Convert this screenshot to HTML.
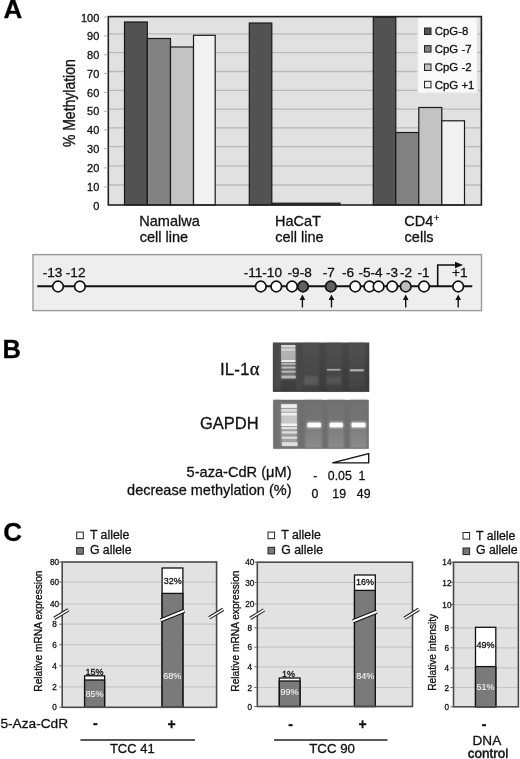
<!DOCTYPE html>
<html><head><meta charset="utf-8">
<style>
html,body{margin:0;padding:0;background:#fff;}
body{width:520px;height:759px;overflow:hidden;}
svg{display:block;filter:blur(0.3px);font-family:"Liberation Sans",sans-serif;}
svg text{stroke:#111;stroke-width:0.3px;}
svg text.w{stroke:#f4f4f4;stroke-width:0.1px;}
</style></head>
<body>
<svg width="520" height="759" viewBox="0 0 520 759">
<!-- ===== PANEL A ===== -->
<text x="3.4" y="18.4" font-size="26" font-weight="bold" stroke="#000" stroke-width="0.2">A</text>
<!-- plot area -->
<rect x="108.3" y="16.6" width="373.1" height="188.4" fill="#e1e1e1"/>
<g stroke="#bababa" stroke-width="1.3">
<line x1="108.5" x2="481" y1="33.9" y2="33.9"/>
<line x1="108.5" x2="481" y1="52.7" y2="52.7"/>
<line x1="108.5" x2="481" y1="71.5" y2="71.5"/>
<line x1="108.5" x2="481" y1="90.4" y2="90.4"/>
<line x1="108.5" x2="481" y1="109.2" y2="109.2"/>
<line x1="108.5" x2="481" y1="127.9" y2="127.9"/>
<line x1="108.5" x2="481" y1="146.7" y2="146.7"/>
<line x1="108.5" x2="481" y1="165.9" y2="165.9"/>
<line x1="108.5" x2="481" y1="185" y2="185"/>
</g>
<!-- legend -->
<rect x="418" y="17.2" width="59" height="75.6" fill="#f9f9f9" stroke="#ececec" stroke-width="1"/>
<!-- bars -->
<g stroke="#1a1a1a" stroke-width="1.2">
<rect x="124.5" y="22" width="22.8" height="183.0" fill="#525252"/>
<rect x="147.3" y="38.5" width="23.2" height="166.5" fill="#828282"/>
<rect x="170.5" y="47" width="23" height="158.0" fill="#c3c3c3"/>
<rect x="193.5" y="35.3" width="21.7" height="169.7" fill="#f2f2f2"/>
<rect x="249.3" y="23" width="22.5" height="182.0" fill="#525252"/>
<rect x="272" y="203.2" width="68" height="1.8" fill="#525252"/>
<rect x="373.3" y="17" width="22.5" height="188.0" fill="#525252"/>
<rect x="395.8" y="132.5" width="23" height="72.5" fill="#828282"/>
<rect x="418.8" y="107.5" width="23" height="97.5" fill="#c3c3c3"/>
<rect x="441.8" y="120.8" width="22.7" height="84.2" fill="#f2f2f2"/>
</g>
<!-- frame -->
<rect x="108.3" y="16.6" width="373.1" height="188.4" fill="none" stroke="#222" stroke-width="1.6"/>
<!-- ticks -->
<g stroke="#b0b0b0" stroke-width="1">
<line x1="103.8" x2="107.5" y1="35.9" y2="35.9"/>
<line x1="103.8" x2="107.5" y1="54.7" y2="54.7"/>
<line x1="103.8" x2="107.5" y1="73.5" y2="73.5"/>
<line x1="103.8" x2="107.5" y1="92.4" y2="92.4"/>
<line x1="103.8" x2="107.5" y1="111.2" y2="111.2"/>
<line x1="103.8" x2="107.5" y1="129.9" y2="129.9"/>
<line x1="103.8" x2="107.5" y1="148.7" y2="148.7"/>
<line x1="103.8" x2="107.5" y1="167.9" y2="167.9"/>
<line x1="103.8" x2="107.5" y1="187.0" y2="187.0"/>
<line x1="103.8" x2="107.5" y1="17" y2="17"/>
</g>
<!-- y tick labels -->
<g font-size="11" text-anchor="end" fill="#111">
<text x="99.3" y="21.6">100</text>
<text x="99.3" y="40.4">90</text>
<text x="99.3" y="59.1">80</text>
<text x="99.3" y="77.8">70</text>
<text x="99.3" y="96.7">60</text>
<text x="99.3" y="115.4">50</text>
<text x="99.3" y="134.2">40</text>
<text x="99.3" y="153">30</text>
<text x="99.3" y="172">20</text>
<text x="99.3" y="191">10</text>
<text x="99.3" y="209.5">0</text>
</g>
<text transform="translate(75.2,103.2) rotate(-90) scale(1,1.13)" font-size="14" text-anchor="middle" fill="#111">% Methylation</text>
<!-- legend items -->
<g stroke="#222" stroke-width="1">
<rect x="424.5" y="28" width="6.5" height="6.5" fill="#525252"/>
<rect x="424.5" y="45.6" width="6.5" height="6.5" fill="#828282"/>
<rect x="424.5" y="64" width="6.5" height="6.5" fill="#c3c3c3"/>
<rect x="424.5" y="81.3" width="6.5" height="6.5" fill="#f2f2f2"/>
</g>
<g font-size="11.4" fill="#111">
<text x="434.8" y="35.4">CpG-8</text>
<text x="434.8" y="52.9">CpG -7</text>
<text x="434.8" y="71.2">CpG -2</text>
<text x="434.8" y="88.7">CpG +1</text>
</g>
<!-- category labels -->
<g font-size="14.5" fill="#111">
<text x="139.3" y="225.5">Namalwa</text>
<text x="139.8" y="242">cell line</text>
<text x="275" y="225.5">HaCaT</text>
<text x="275.3" y="242">cell line</text>
<text x="404.2" y="225.5">CD4<tspan font-size="9" dx="0.8" dy="-4.8">+</tspan></text>
<text x="404.6" y="242">cells</text>
</g>

<!-- ===== CpG MAP ===== -->
<rect x="33" y="254.6" width="448.5" height="56" fill="#eeeeee" stroke="#9a9a9a" stroke-width="1.4"/>
<line x1="37.3" x2="472.3" y1="286.2" y2="286.2" stroke="#111" stroke-width="2"/>
<!-- transcription start -->
<polyline points="437.7,286.2 437.7,265 456,265" fill="none" stroke="#111" stroke-width="1.6"/>
<polygon points="455,261.8 463,265 455,268.2" fill="#111"/>
<g stroke="#111" stroke-width="1.7" fill="#fff">
<circle cx="58" cy="286.5" r="5.3"/>
<circle cx="79.9" cy="286.5" r="5.3"/>
<circle cx="260.8" cy="286.5" r="5.3"/>
<circle cx="276.3" cy="286.5" r="5.3"/>
<circle cx="292" cy="286.5" r="5.3"/>
<circle cx="303" cy="286.5" r="5.3" fill="#606060"/>
<circle cx="330.8" cy="286.5" r="5.3" fill="#606060"/>
<circle cx="355.3" cy="286.5" r="5.3"/>
<circle cx="369.4" cy="286.5" r="5.3"/>
<circle cx="378.6" cy="286.5" r="5.3"/>
<circle cx="392.2" cy="286.5" r="5.3"/>
<circle cx="405.7" cy="286.5" r="5.3" fill="#bcbcbc"/>
<circle cx="424" cy="286.5" r="5.3"/>
<circle cx="458.2" cy="286.5" r="5.3"/>
</g>
<!-- up arrows -->
<g stroke="#111" stroke-width="1.4">
<line x1="302.4" x2="302.4" y1="298" y2="307.5"/>
<line x1="331.5" x2="331.5" y1="298" y2="307.5"/>
<line x1="405.7" x2="405.7" y1="298" y2="307.5"/>
<line x1="458.2" x2="458.2" y1="298" y2="307.5"/>
</g>
<g fill="#111">
<polygon points="302.4,294.5 299.6,300 305.2,300"/>
<polygon points="331.5,294.5 328.7,300 334.3,300"/>
<polygon points="405.7,294.5 402.9,300 408.5,300"/>
<polygon points="458.2,294.5 455.4,300 461,300"/>
</g>
<g font-size="13.6" fill="#111">
<text x="42.7" y="276.6">-13</text>
<text x="65.8" y="276.6">-12</text>
<text x="243.7" y="276.6">-11-10</text>
<text x="287.6" y="276.6">-9-8</text>
<text x="322.7" y="276.6">-7</text>
<text x="341.9" y="276.6">-6</text>
<text x="358.5" y="276.6">-5-4</text>
<text x="386" y="276.6">-3</text>
<text x="400" y="276.6">-2</text>
<text x="417.6" y="276.6">-1</text>
<text x="452" y="276.6">+1</text>
</g>

<!-- ===== PANEL B ===== -->
<text x="2.4" y="358.2" font-size="25.5" font-weight="bold">B</text>
<defs>
<filter id="bl" x="-10%" y="-30%" width="120%" height="160%"><feGaussianBlur stdDeviation="0.6"/></filter>
<filter id="bl3" x="-20%" y="-60%" width="140%" height="220%"><feGaussianBlur stdDeviation="1"/></filter>
<filter id="bl2" x="-10%" y="-30%" width="120%" height="160%"><feGaussianBlur stdDeviation="1.2"/></filter>
<linearGradient id="lad1" x1="0" y1="0" x2="0" y2="1">
<stop offset="0" stop-color="#d8d8d8"/><stop offset="0.3" stop-color="#c8c8c8"/><stop offset="0.7" stop-color="#b0b0b0"/><stop offset="1" stop-color="#a8a8a8"/>
</linearGradient>
<linearGradient id="g1bg" x1="0" y1="0" x2="0.3" y2="1">
<stop offset="0" stop-color="#494949"/><stop offset="0.6" stop-color="#424242"/><stop offset="1" stop-color="#3b3b3b"/>
</linearGradient>
<linearGradient id="lane1" x1="0" y1="0" x2="0" y2="1">
<stop offset="0" stop-color="#515151"/><stop offset="0.6" stop-color="#484848"/><stop offset="1" stop-color="#424242"/>
</linearGradient>
<linearGradient id="lane2" x1="0" y1="0" x2="0" y2="1">
<stop offset="0" stop-color="#717171"/><stop offset="0.45" stop-color="#747474"/><stop offset="0.6" stop-color="#7e7e7e"/><stop offset="1" stop-color="#8c8c8c"/>
</linearGradient>
</defs>
<!-- gel 1 -->
<rect x="272.9" y="342.5" width="96.4" height="49.4" fill="url(#g1bg)"/>
<g filter="url(#bl2)">
<rect x="274" y="344" width="7" height="46" fill="#4c4c4c"/>
<rect x="296" y="344" width="6" height="46" fill="#474747"/>
<rect x="303" y="343.5" width="16" height="47" fill="url(#lane1)"/>
<rect x="326" y="343.5" width="16" height="47" fill="url(#lane1)"/>
<rect x="349" y="343.5" width="16" height="47" fill="url(#lane1)"/>
<rect x="304" y="376" width="14" height="9" fill="#5a5a5a"/>
<rect x="327" y="377" width="14" height="7" fill="#545454"/>
<rect x="281.3" y="344.5" width="14.2" height="34.5" fill="#707070"/>
</g>
<g filter="url(#bl)">
<rect x="281.3" y="345" width="14" height="15" fill="#aaaaaa"/>
<rect x="281.3" y="345" width="14" height="2.2" fill="#d8d8d8"/>
<rect x="281.3" y="348.4" width="14" height="2.8" fill="#d0d0d0"/>
<rect x="281.3" y="351.5" width="14" height="8" fill="#b2b2b2"/>
<rect x="281.3" y="360" width="14.2" height="2" fill="#eeeeee"/>
<rect x="281.5" y="362.8" width="14" height="2" fill="#b8b8b8"/>
<rect x="281.5" y="366.5" width="14" height="2" fill="#bdbdbd"/>
<rect x="281.5" y="370.7" width="14" height="2" fill="#b8b8b8"/>
<rect x="281.5" y="375.6" width="14.2" height="2.8" fill="#b8b8b8"/>
<rect x="327" y="368.9" width="13.5" height="1.7" fill="#a8a8a8"/>
<rect x="349.8" y="369.3" width="14" height="2" fill="#b8b8b8"/>
</g>
<!-- gel 2 -->
<rect x="273.2" y="399.8" width="95.6" height="49" fill="#6e6e6e"/>
<g filter="url(#bl2)">
<rect x="274" y="400.5" width="7" height="47.5" fill="#727272"/>
<rect x="305" y="400.5" width="17" height="47.5" fill="url(#lane2)"/>
<rect x="328" y="400.5" width="16" height="47.5" fill="url(#lane2)"/>
<rect x="350" y="400.5" width="17" height="47.5" fill="url(#lane2)"/>
<rect x="281.3" y="404" width="15.8" height="42.2" fill="#a0a0a0"/>
</g>
<g filter="url(#bl)">
<rect x="281.2" y="404.2" width="15.6" height="3.7" fill="#eeeeee"/>
<rect x="281.2" y="409" width="15.6" height="2.7" fill="#dddddd"/>
<rect x="281.2" y="412.7" width="15.6" height="3.1" fill="#f0f0f0"/>
<rect x="281.4" y="415.8" width="15.4" height="7.5" fill="#c8c8c8"/>
<rect x="281.2" y="423.3" width="15.8" height="2.7" fill="#f5f5f5"/>
<rect x="281.5" y="427" width="15.5" height="2.2" fill="#e0e0e0"/>
<rect x="281.8" y="431.2" width="15.3" height="2.4" fill="#dddddd"/>
<rect x="281.8" y="436.7" width="15.3" height="2.1" fill="#dddddd"/>
<rect x="282" y="442.2" width="15.5" height="3.8" fill="#e0e0e0"/>
</g>
<g filter="url(#bl3)">
<rect x="306.8" y="422" width="14.6" height="6" rx="1.5" fill="#c8c8c8"/>
<rect x="329.2" y="422" width="14.2" height="6" rx="1.5" fill="#c8c8c8"/>
<rect x="351" y="422" width="15" height="6" rx="1.5" fill="#c8c8c8"/>
</g>
<g filter="url(#bl)">
<rect x="307.5" y="422.8" width="13.4" height="4.4" rx="1" fill="#ffffff"/>
<rect x="329.8" y="422.8" width="13" height="4.4" rx="1" fill="#ffffff"/>
<rect x="351.7" y="422.8" width="13.8" height="4.4" rx="1" fill="#ffffff"/>
</g>
<text x="259.4" y="375.2" font-size="17" text-anchor="end" fill="#111">IL-1<tspan font-family="Liberation Serif" font-size="18.5" dx="0.3">α</tspan></text>
<text x="258.6" y="428.9" font-size="16.5" text-anchor="end" fill="#111">GAPDH</text>
<polygon points="332.3,462.9 368.7,453.6 368.7,462.9" fill="#fff" stroke="#111" stroke-width="1.3"/>
<g font-size="14.6" text-anchor="end" fill="#111">
<text x="291.5" y="477.2">5-aza-CdR (μM)</text>
<text x="291.5" y="495.1" font-size="14.5">decrease methylation (%)</text>
</g>
<g font-size="12.3" fill="#111" text-anchor="middle">
<text x="315.2" y="479.8">-</text>
<text x="339.8" y="479.8">0.05</text>
<text x="361.8" y="479.8">1</text>
<text x="314.8" y="498.2">0</text>
<text x="339.2" y="498.2">19</text>
<text x="363.7" y="498.2">49</text>
</g>

<!-- ===== PANEL C ===== -->
<text x="3.2" y="540.6" font-size="26" font-weight="bold">C</text>
<!-- legends -->
<g stroke="#222" stroke-width="1">
<rect x="76.7" y="532.1" width="6.6" height="6.6" fill="#fff"/>
<rect x="76.7" y="547.6" width="6.6" height="6.6" fill="#7a7a7a"/>
<rect x="268" y="532.1" width="6.6" height="6.6" fill="#fff"/>
<rect x="268" y="547.3" width="6.6" height="6.6" fill="#7a7a7a"/>
<rect x="463" y="532.5" width="6.6" height="6.6" fill="#fff"/>
<rect x="463" y="548" width="6.6" height="6.6" fill="#7a7a7a"/>
</g>
<g font-size="12.3" fill="#111">
<text x="89.9" y="539.2">T allele</text>
<text x="89.9" y="553.8">G allele</text>
<text x="281.3" y="539.2">T allele</text>
<text x="281.3" y="553.8">G allele</text>
<text x="476" y="539.6">T allele</text>
<text x="476" y="554.3">G allele</text>
</g>
<!-- plot backgrounds -->
<rect x="62.2" y="562" width="154.4" height="145.3" fill="#e2e2e2"/>
<rect x="257.3" y="562.2" width="155.2" height="144.3" fill="#e2e2e2"/>
<rect x="453.5" y="562.2" width="64.9" height="144.6" fill="#e2e2e2"/>
<!-- gridlines -->
<g stroke="#c6c6c6" stroke-width="1.2">
<line x1="62.2" x2="216.6" y1="582" y2="582"/>
<line x1="62.2" x2="216.6" y1="604" y2="604"/>
<line x1="62.2" x2="216.6" y1="624.2" y2="624.2"/>
<line x1="62.2" x2="216.6" y1="644.7" y2="644.7"/>
<line x1="62.2" x2="216.6" y1="665.8" y2="665.8"/>
<line x1="62.2" x2="216.6" y1="686.9" y2="686.9"/>
<line x1="257.3" x2="412.5" y1="582.4" y2="582.4"/>
<line x1="257.3" x2="412.5" y1="604" y2="604"/>
<line x1="257.3" x2="412.5" y1="627.8" y2="627.8"/>
<line x1="257.3" x2="412.5" y1="647.2" y2="647.2"/>
<line x1="257.3" x2="412.5" y1="666.8" y2="666.8"/>
<line x1="257.3" x2="412.5" y1="687.5" y2="687.5"/>
<line x1="453.5" x2="518.4" y1="582.4" y2="582.4"/>
<line x1="453.5" x2="518.4" y1="604.6" y2="604.6"/>
<line x1="453.5" x2="518.4" y1="627.8" y2="627.8"/>
<line x1="453.5" x2="518.4" y1="647.8" y2="647.8"/>
<line x1="453.5" x2="518.4" y1="667.9" y2="667.9"/>
<line x1="453.5" x2="518.4" y1="687.5" y2="687.5"/>
</g>
<!-- bars -->
<g stroke="#111" stroke-width="1.3">
<rect x="84.6" y="675.8" width="20" height="31.5" fill="#fff"/>
<rect x="84.6" y="680" width="20" height="27.3" fill="#7a7a7a"/>
<rect x="162.1" y="568" width="20.8" height="139.3" fill="#fff"/>
<rect x="162.1" y="593.4" width="20.8" height="113.9" fill="#7a7a7a"/>
<rect x="279.3" y="678" width="20.7" height="28.5" fill="#fff"/>
<rect x="279.3" y="681" width="20.7" height="25.5" fill="#7a7a7a"/>
<rect x="354.5" y="575" width="20.8" height="131.5" fill="#fff"/>
<rect x="354.5" y="590.4" width="20.8" height="116.1" fill="#7a7a7a"/>
<rect x="475.5" y="627.3" width="20.3" height="79.5" fill="#fff"/>
<rect x="475.5" y="666.6" width="20.3" height="40.2" fill="#7a7a7a"/>
</g>
<!-- frames -->
<g fill="none" stroke="#4a4a4a" stroke-width="1.6">
<rect x="62.2" y="562" width="154.4" height="145.3"/>
<rect x="257.3" y="562.2" width="155.2" height="144.3"/>
<rect x="453.5" y="562.2" width="64.9" height="144.6"/>
</g>
<!-- C ticks -->
<g stroke="#666" stroke-width="1">
<line x1="59.2" x2="62.2" y1="562" y2="562"/>
<line x1="59.2" x2="62.2" y1="582" y2="582"/>
<line x1="59.2" x2="62.2" y1="604" y2="604"/>
<line x1="59.2" x2="62.2" y1="624.2" y2="624.2"/>
<line x1="59.2" x2="62.2" y1="644.7" y2="644.7"/>
<line x1="59.2" x2="62.2" y1="665.8" y2="665.8"/>
<line x1="59.2" x2="62.2" y1="686.9" y2="686.9"/>
<line x1="59.2" x2="62.2" y1="707.3" y2="707.3"/>
<line x1="254.3" x2="257.3" y1="562.2" y2="562.2"/>
<line x1="254.3" x2="257.3" y1="582.4" y2="582.4"/>
<line x1="254.3" x2="257.3" y1="604" y2="604"/>
<line x1="254.3" x2="257.3" y1="627.8" y2="627.8"/>
<line x1="254.3" x2="257.3" y1="647.2" y2="647.2"/>
<line x1="254.3" x2="257.3" y1="666.8" y2="666.8"/>
<line x1="254.3" x2="257.3" y1="687.5" y2="687.5"/>
<line x1="254.3" x2="257.3" y1="706.5" y2="706.5"/>
<line x1="450.5" x2="453.5" y1="562.2" y2="562.2"/>
<line x1="450.5" x2="453.5" y1="582.4" y2="582.4"/>
<line x1="450.5" x2="453.5" y1="604.6" y2="604.6"/>
<line x1="450.5" x2="453.5" y1="627.8" y2="627.8"/>
<line x1="450.5" x2="453.5" y1="647.8" y2="647.8"/>
<line x1="450.5" x2="453.5" y1="667.9" y2="667.9"/>
<line x1="450.5" x2="453.5" y1="687.5" y2="687.5"/>
<line x1="450.5" x2="453.5" y1="706.8" y2="706.8"/>
</g>
<!-- bar breaks -->
<g>
<line x1="160.6" y1="620.4" x2="184.4" y2="610.8" stroke="#111" stroke-width="4.2"/>
<line x1="160.6" y1="620.4" x2="184.4" y2="610.8" stroke="#fff" stroke-width="2"/>
<line x1="353" y1="621.3" x2="376.8" y2="611.7" stroke="#111" stroke-width="4.2"/>
<line x1="353" y1="621.3" x2="376.8" y2="611.7" stroke="#fff" stroke-width="2"/>
</g>
<!-- axis breaks -->
<g>
<line x1="54.2" y1="618.4" x2="68.4" y2="609.8" stroke="#222" stroke-width="3.6"/>
<line x1="54.2" y1="618.4" x2="68.4" y2="609.8" stroke="#fff" stroke-width="1.5"/>
<line x1="209.2" y1="617.8" x2="223.2" y2="609.4" stroke="#222" stroke-width="3.6"/>
<line x1="209.2" y1="617.8" x2="223.2" y2="609.4" stroke="#fff" stroke-width="1.5"/>
<line x1="250.2" y1="618.4" x2="264" y2="610" stroke="#222" stroke-width="3.6"/>
<line x1="250.2" y1="618.4" x2="264" y2="610" stroke="#fff" stroke-width="1.5"/>
<line x1="404.4" y1="618.3" x2="418.8" y2="609.4" stroke="#222" stroke-width="3.6"/>
<line x1="404.4" y1="618.3" x2="418.8" y2="609.4" stroke="#fff" stroke-width="1.5"/>
</g>
<!-- tick labels -->
<g font-size="8.2" text-anchor="middle" fill="#222" stroke="#222" stroke-width="0.15">
<text x="54.5" y="565.1">80</text>
<text x="54.5" y="585.1">60</text>
<text x="54.5" y="607.1">40</text>
<text x="54.5" y="627.3">8</text>
<text x="54.5" y="647.8">6</text>
<text x="54.5" y="668.9">4</text>
<text x="54.5" y="690.0">2</text>
<text x="54.5" y="710.4">0</text>
<text x="249.8" y="564.9">40</text>
<text x="249.8" y="585.5">30</text>
<text x="249.8" y="607.1">20</text>
<text x="249.8" y="630.9">8</text>
<text x="249.8" y="650.3">6</text>
<text x="249.8" y="669.9">4</text>
<text x="249.8" y="690.6">2</text>
<text x="249.8" y="709.6">0</text>
<text x="446.9" y="565.3">14</text>
<text x="446.9" y="585.5">12</text>
<text x="446.9" y="607.7">10</text>
<text x="446.9" y="630.9">8</text>
<text x="446.9" y="650.9">6</text>
<text x="446.9" y="671.0">4</text>
<text x="446.9" y="690.6">2</text>
<text x="446.9" y="709.9">0</text>
</g>
<!-- y labels -->
<g font-size="10.2" fill="#111">
<text transform="translate(42.3,691.7) rotate(-90)">Relative mRNA expression</text>
<text transform="translate(238.5,691.7) rotate(-90)">Relative mRNA expression</text>
<text transform="translate(435.8,690.8) rotate(-90)">Relative intensity</text>
</g>
<!-- bar value labels -->
<g font-size="9" text-anchor="middle">
<text x="94.5" y="674.7" fill="#111">15%</text>
<text x="94.5" y="697.4" fill="#f4f4f4" class="w">85%</text>
<text x="172.7" y="584.2" fill="#111">32%</text>
<text x="172.3" y="678.9" fill="#f4f4f4" class="w">68%</text>
<text x="288.4" y="676.5" fill="#111">1%</text>
<text x="289.6" y="694.9" fill="#f4f4f4" class="w">99%</text>
<text x="365" y="585.4" fill="#111">16%</text>
<text x="365.3" y="679.2" fill="#f4f4f4" class="w">84%</text>
<text x="485.5" y="648.3" fill="#111">49%</text>
<text x="485.6" y="690.2" fill="#f4f4f4" class="w">51%</text>
</g>
<!-- x labels -->
<text x="0.4" y="728" font-size="13.7" fill="#111">5-Aza-CdR</text>
<g font-size="14" font-weight="bold" text-anchor="middle" fill="#111">
<text x="95.3" y="728.3">-</text>
<text x="171.5" y="729">+</text>
<text x="290.6" y="728.7">-</text>
<text x="362.7" y="728.5">+</text>
<text x="484" y="728.6">-</text>
</g>
<g stroke="#222" stroke-width="1.5">
<line x1="80.5" x2="195" y1="740" y2="740"/>
<line x1="274" x2="387.5" y1="739.9" y2="739.9"/>
</g>
<g font-size="13" text-anchor="middle" fill="#111">
<text x="132.3" y="752.5">TCC 41</text>
<text x="332.1" y="752.6" font-size="13.3">TCC 90</text>
<text x="486.9" y="744.6" font-size="13.6">DNA</text>
<text x="488.1" y="758.3" font-size="13.5">control</text><text x="488.1" y="756.8" font-size="13.5" opacity="0.45">control</text>
</g>
</svg>
</body></html>
